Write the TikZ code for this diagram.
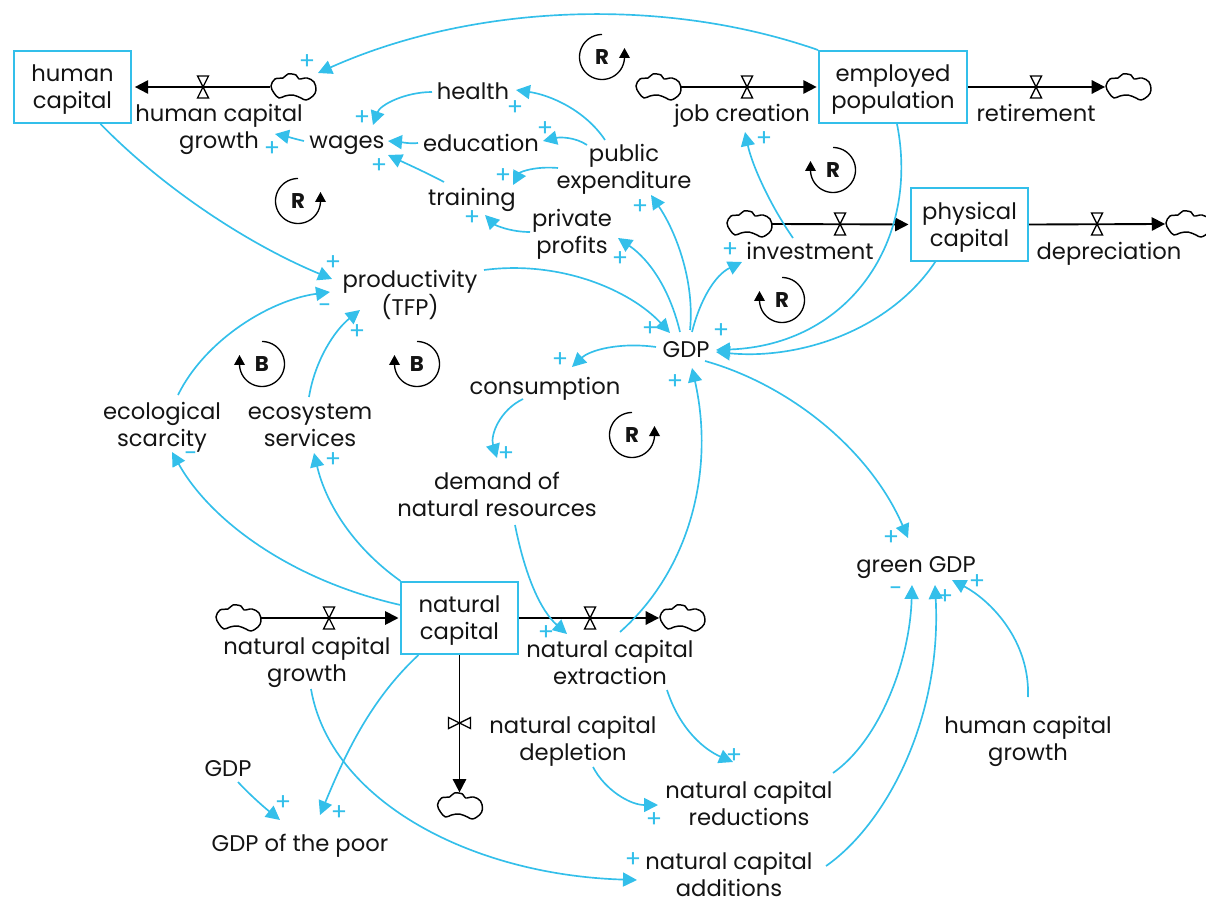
\documentclass[tikz,border=0pt]{standalone}
\usepackage{fontspec}
\setmainfont{Poppins}
\usetikzlibrary{arrows.meta,calc}
\definecolor{cy}{HTML}{33BFEA}
\definecolor{ink}{HTML}{141414}
\newcommand{\fs}{\rule{0pt}{18.6pt}}
\tikzset{
  lab/.style={align=center,inner sep=0pt,text=ink,font=\fontsize{17}{20.2}\selectfont,execute at begin node={\rule{0pt}{19.4pt}},execute at end node=\strut},
  stock/.style={draw=cy,line width=1.5pt,fill=white,minimum width=88pt,minimum height=54.5pt,align=center,inner sep=0pt,text=ink,font=\fontsize{17}{20.2}\selectfont,execute at begin node={\rule{0pt}{19.4pt}},execute at end node=\strut},
  link/.style={draw=cy,line width=1.25pt,-{Triangle[length=10.5pt,width=10.5pt,fill=cy]}},
  flow/.style={draw=black,line width=1.4pt,-{Triangle[length=10pt,width=10pt,fill=black]}},
  sign/.style={text=cy,inner sep=0pt,font=\fontsize{18}{18}\selectfont},
  loopmark/.style={inner sep=0pt,text=ink,font=\fontsize{16}{16}\selectfont\bfseries},
  loopline/.style={draw=black,line width=1pt},
  cloudbox/.style={minimum width=34pt,minimum height=20pt,inner sep=0pt},
  cloudline/.style={draw=black,line width=1.1pt,fill=white,line join=round},
  valveline/.style={draw=black,line width=1pt,line join=miter}
}
\newcommand{\mycloud}[2]{%
  \node[cloudbox] (#1) at (#2) {};
  \draw[cloudline,shift={(#1.center)}] plot[smooth cycle,tension=0.6] coordinates {(-22,-1)(-18,-8)(-10,-9)(-5,-13)(3,-12)(6,-8)(14,-9)(21,-5)(23,3)(20,9)(13,13)(8,11)(0,8)(-8,9)(-14,11)(-19,6)};
}
\newcommand{\myvalve}[2]{%
  \coordinate (#1) at (#2);
  \draw[valveline,shift={(#1)}] (-5.5,-11)--(5.5,-11)--(-5.5,11)--(5.5,11)--cycle;
}
\newcommand{\conn}[6]{%
  \draw[link] ([shift={(#2)}]#1.center) .. controls (#3) and (#4) .. ([shift={(#6)}]#5.center);
}
\newcommand{\looprt}[3]{% arrow on the right side
  \node[loopmark] (#1) at (#2) {#3};
  \draw[loopline,-{Triangle[length=7.5pt,width=8pt,fill=black]},shift={(#1.center)}] plot[domain=90:360,samples=50,smooth] ({22.5*cos(\x)},{-22.5*sin(\x)}) -- (22.5,-9);
}
\newcommand{\looplf}[3]{% arrow on the left side
  \node[loopmark] (#1) at (#2) {#3};
  \draw[loopline,-{Triangle[length=7.5pt,width=8pt,fill=black]},shift={(#1.center)}] plot[domain=90:360,samples=50,smooth] ({-22.5*cos(\x)},{-22.5*sin(\x)}) -- (-22.5,-9);
}
\begin{document}
\begin{tikzpicture}[x=0.75pt,y=-0.75pt]
\useasboundingbox (0,0) rectangle (1206,898);
% stocks
\node[stock] (hc) at (72.5,87) {\fs human\\capital};
\node[stock,minimum width=111pt] (emp) at (893,87) {\fs employed\\population};
\node[stock] (phys) at (969.5,224.5) {\fs physical\\capital};
\node[stock] (nat) at (459.5,618) {\fs natural\\capital};
% variables
\node[lab] (hcg) at (219,127) {\fs human capital\\growth};
\node[lab] (wages) at (347,140) {wages};
\node[lab] (health) at (473,91) {health};
\node[lab] (edu) at (481,143) {education};
\node[lab] (training) at (472,197) {training};
\node[lab] (pub) at (624,167) {\fs public\\expenditure};
\node[lab] (priv) at (572,232) {\fs private\\profits};
\node[lab] (job) at (742,113) {job creation};
\node[lab] (ret) at (1036,113) {retirement};
\node[lab] (inv) at (810,251) {investment};
\node[lab] (dep) at (1109,251) {depreciation};
\node[lab] (prod) at (410,293) {\fs productivity\\(TFP)};
\node[lab] (gdp) at (686,349) {GDP};
\node[lab] (cons) at (545,386) {consumption};
\node[lab] (ecol) at (162,425) {\fs ecological\\scarcity};
\node[lab] (ecos) at (310,425) {\fs ecosystem\\services};
\node[lab] (dem) at (497,495) {\fs demand of\\natural resources};
\node[lab] (green) at (916,564) {green GDP};
\node[lab] (ncg) at (307,660) {\fs natural capital\\growth};
\node[lab] (nce) at (610,663) {\fs natural capital\\extraction};
\node[lab] (ncd) at (573,739) {\fs natural capital\\depletion};
\node[lab] (hcgb) at (1028,739) {\fs human capital\\growth};
\node[lab] (ncr) at (749,804) {\fs natural capital\\reductions};
\node[lab] (nca) at (729,875) {\fs natural capital\\additions};
\node[lab] (gdpb) at (228,768) {GDP};
\node[lab] (poor) at (300,843) {GDP of the poor};
% clouds
\mycloud{cA}{293,87}
\mycloud{cB}{658,87}
\mycloud{cC}{1128,87}
\mycloud{cD}{749,224}
\mycloud{cE}{1188,224}
\mycloud{cF}{238,618}
\mycloud{cG}{682,618}
\mycloud{cH}{459.5,806}
% flows
\draw[flow,shorten >=2pt] (cA.west) -- (hc.east);
\draw[flow,shorten >=1pt] (cB.east) -- (emp.west);
\draw[flow] (emp.east) -- (cC.west);
\draw[flow,shorten >=1pt] (cD.east) -- (phys.west);
\draw[flow] (phys.east) -- (cE.west);
\draw[flow,shorten >=1pt] (cF.east) -- (nat.west);
\draw[flow] (nat.east) -- (cG.west);
\draw[flow] (nat.south) -- (cH.north);
% valves
\myvalve{vA}{203,87}
\myvalve{vB}{747,87}
\myvalve{vC}{1036,87}
\myvalve{vD}{840,224}
\myvalve{vE}{1097,224}
\myvalve{vF}{329,618}
\myvalve{vG}{590,618}
\coordinate (vH) at (459.5,723);
\draw[valveline,shift={(vH)}] (-11,-5.5)--(-11,5.5)--(11,-5.5)--(11,5.5)--cycle;
% causal links
\conn{emp}{-75,-37}{660,-5}{470,5}{cA}{25,-14}
\conn{hc}{28,37}{165,190}{250,245}{prod}{-78,-14}
\conn{health}{-41,1}{405,92}{380,105}{wages}{26,-15}
\conn{edu}{-63,0}{410,144}{400,142}{wages}{41,1}
\conn{training}{-28,-15}{425,172}{405,163}{wages}{41,15}
\conn{wages}{-43,1}{295,139}{285,136}{hcg}{56,7}
\conn{pub}{-19,-27}{585,110}{550,95}{health}{43,-1}
\conn{pub}{-37,-22}{575,137}{560,137}{edu}{62,-2}
\conn{pub}{-66,1}{535,166}{520,172}{training}{41,-12}
\conn{priv}{-42,0}{510,232}{495,225}{training}{13,18}
\conn{gdp}{4,-19}{695,280}{675,230}{pub}{27,28}
\conn{gdp}{-6,-17}{670,290}{650,260}{priv}{46,6}
\conn{gdp}{6,-17}{700,300}{715,275}{inv}{-68,11}
\conn{inv}{-17,-13}{770,205}{752,165}{job}{3,19}
\conn{emp}{4,37}{920,240}{850,345}{gdp}{30,1}
\conn{phys}{-34,37}{890,330}{800,360}{gdp}{30,3}
\conn{prod}{74,-23}{560,260}{630,290}{gdp}{-16,-16}
\conn{gdp}{-30,-2}{620,342}{590,350}{cons}{27,-19}
\conn{cons}{-22,13}{500,410}{490,435}{dem}{0,-37}
\conn{dem}{18,30}{525,575}{540,610}{nce}{-43,-29}
\conn{nce}{10,-31}{690,570}{715,470}{gdp}{6,19}
\conn{gdp}{19,12}{790,385}{870,450}{green}{-8,-26}
\conn{nce}{57,27}{680,730}{705,750}{ncr}{-16,-42}
\conn{ncd}{20,28}{605,790}{630,805}{ncr}{-91,1}
\conn{ncr}{84,-31}{880,740}{910,660}{green}{-4,21}
\conn{nca}{97,-9}{885,825}{942,720}{green}{19,21}
\conn{hcgb}{0,-42}{1030,640}{990,600}{green}{36,16}
\conn{ncg}{4,29}{330,800}{470,875}{nca}{-92,5}
\conn{nat}{-41,37}{370,700}{345,755}{poor}{20,-28}
\conn{gdpb}{10,14}{250,795}{265,808}{poor}{-20,-23}
\conn{nat}{-59,-37}{350,545}{325,500}{ecos}{4,28}
\conn{nat}{-59,-13}{290,580}{210,520}{ecol}{10,27}
\conn{ecos}{-1,-28}{315,360}{335,330}{prod}{-50,17}
\conn{ecol}{16,-30}{205,340}{270,300}{prod}{-80,-1}
% polarity
\foreach \x/\y [count=\i] in {307/62,362/118,272/149,379/166,515/108,545/129,503/176,472/218,640/207,620/259,730/250,764/139,333/263,357/332,650/329,721/331,560/360,675/382,506/454,333/460,546/633,891/538,945/597,977/582,734/756,654/820,633/860,283/803,339/813}
  \node[sign] (pl\i) at (\x,\y) {+};
\foreach \x/\y [count=\i] in {325/309,191/457,896/592}
  \node[sign] (mi\i) at (\x,\y) {-};
% loops
\looprt{lA}{298,201}{R}
\looprt{lB}{602,57}{R}
\looprt{lC}{632,435}{R}
\looplf{lD}{833,170}{R}
\looplf{lE}{782,300}{R}
\looplf{lF}{262,364}{B}
\looplf{lG}{417,364}{B}
\end{tikzpicture}
\end{document}
